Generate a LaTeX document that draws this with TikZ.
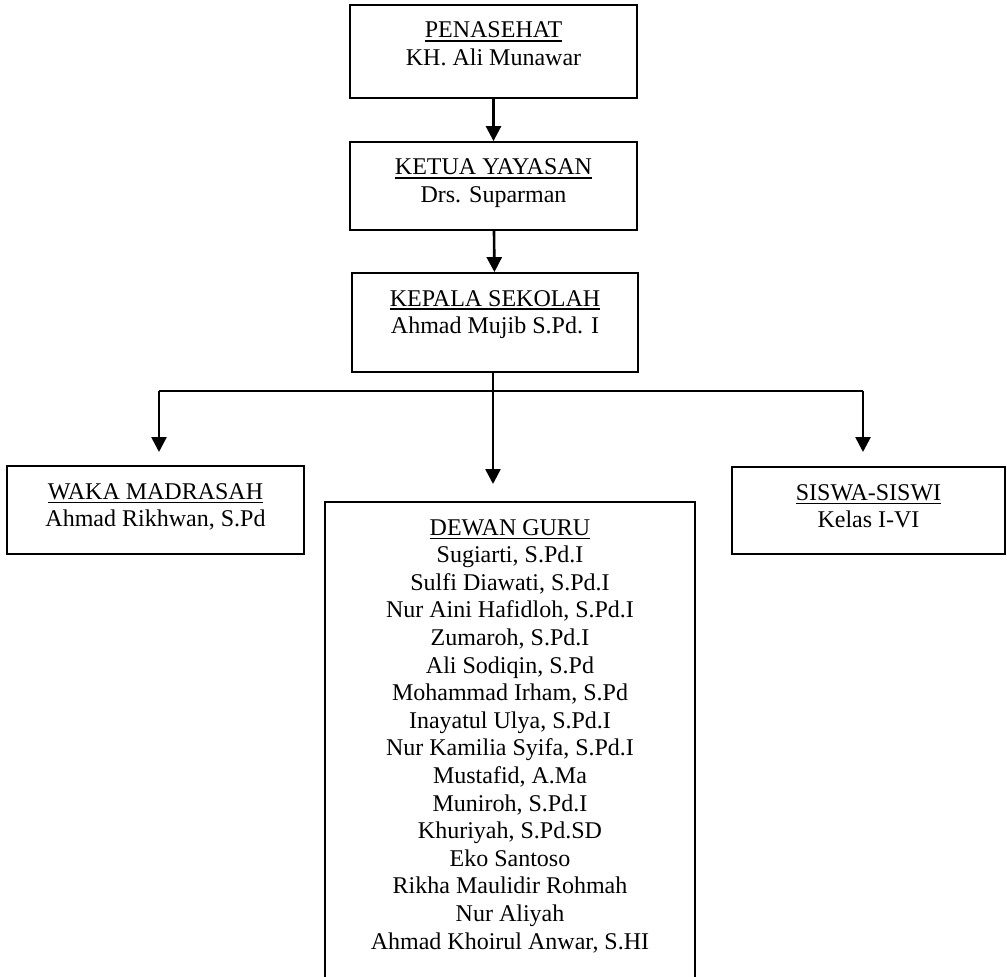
\documentclass[tikz,border=0pt]{standalone}
\usepackage{fontspec}
\setmainfont{Liberation Serif}
\usetikzlibrary{arrows.meta,positioning}

\tikzset{
	orgbox/.style={draw, line width=0.9pt, inner sep=0pt},
	orgtext/.style={anchor=north, align=center, inner sep=0pt},
	conn/.style={line width=1.3pt},
	arr/.style={conn, -{Triangle[length=7.5pt, width=7.5pt]}},
}
\newcommand{\hdr}[1]{\leavevmode\vtop{\hbox{#1}\kern1.1pt\hrule height 0.75pt}}

\begin{document}
\begin{tikzpicture}[x=0.5pt, y=-0.5pt, font=\fontsize{12}{13.8}\selectfont]
		\useasboundingbox (0,0) rectangle (1007,976);

		% --- boxes (centre, size in pt) ---
		\node[orgbox, minimum width=143.5pt, minimum height=46.5pt] (pen) at (493.5,51.5) {};
		\node[orgbox, minimum width=143.5pt, minimum height=44pt] (ket) at (493.5,186) {};
		\node[orgbox, minimum width=143pt, minimum height=49.5pt] (kep) at (495,322.5) {};
		\node[orgbox, minimum width=148.5pt, minimum height=44pt] (waka) at (155.5,510) {};
		\node[orgbox, minimum width=185pt, minimum height=254pt] (dewan) at (510,756) {};
		\node[orgbox, minimum width=136.5pt, minimum height=43.5pt] (siswa) at (868.5,510.5) {};

		% --- box texts ---
		\node[orgtext] (pen-t) at ([yshift=-8.8pt]pen.north) {\hdr{PENASEHAT}\\KH. Ali Munawar};
		\node[orgtext] (ket-t) at ([yshift=-8.8pt]ket.north) {\hdr{KETUA YAYASAN}\\Drs. Suparman};
		\node[orgtext] (kep-t) at ([yshift=-8.8pt]kep.north) {\hdr{KEPALA SEKOLAH}\\Ahmad Mujib S.Pd. I};
		\node[orgtext] (waka-t) at ([yshift=-8.8pt]waka.north) {\hdr{WAKA MADRASAH}\\Ahmad Rikhwan, S.Pd};
		\node[orgtext] (siswa-t) at ([yshift=-8.8pt]siswa.north) {\hdr{SISWA-SISWI}\\Kelas I-VI};
		\node[orgtext] (dewan-t) at ([yshift=-8.8pt]dewan.north) {\hdr{DEWAN GURU}\\
			Sugiarti, S.Pd.I\\
			Sulfi Diawati, S.Pd.I\\
			Nur Aini Hafidloh, S.Pd.I\\
			Zumaroh, S.Pd.I\\
			Ali Sodiqin, S.Pd\\
			Mohammad Irham, S.Pd\\
			Inayatul Ulya, S.Pd.I\\
			Nur Kamilia Syifa, S.Pd.I\\
			Mustafid, A.Ma\\
			Muniroh, S.Pd.I\\
			Khuriyah, S.Pd.SD\\
			Eko Santoso\\
			Rikha Maulidir Rohmah\\
			Nur Aliyah\\
			Ahmad Khoirul Anwar, S.HI};

		% --- branch points and arrow ends ---
		\coordinate (bus) at (493,391);
		\coordinate (busL) at (159,391);
		\coordinate (busR) at (863,391);
		\coordinate (tipL) at (159,452);
		\coordinate (tipM) at (493,484);
		\coordinate (tipR) at (863,452);

		% --- connectors ---
		\draw[arr] (pen) -- (ket);
		\draw[arr] (ket) -- (kep);
		\draw[conn] (kep.south -| bus) -- (bus);
		\draw[conn] (busL) -- (busR);
		\draw[arr] (busL) -- (tipL);
		\draw[arr] (bus) -- (tipM);
		\draw[arr] (busR) -- (tipR);
	\end{tikzpicture}
\end{document}
